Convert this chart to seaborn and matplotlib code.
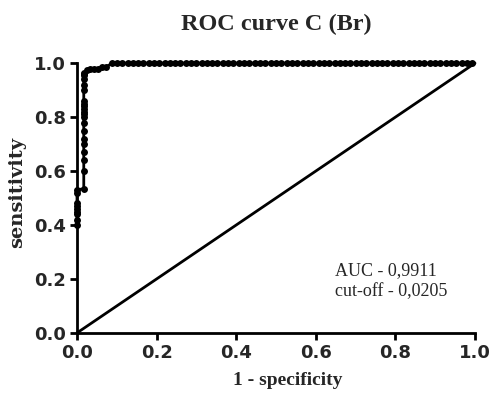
import numpy as np
import pandas as pd
import matplotlib
matplotlib.use("Agg")
import matplotlib.pyplot as plt
import seaborn as sns

# ROC curve points (1 - specificity, sensitivity)
fpr_early = [0.0, 0.0, 0.0, 0.0, 0.0, 0.0, 0.0, 0.0, 0.0,
             0.017, 0.017, 0.017, 0.017, 0.017, 0.017, 0.017, 0.017, 0.017,
             0.017, 0.017, 0.017, 0.017, 0.017, 0.017, 0.017, 0.017, 0.017,
             0.017, 0.017, 0.017,
             0.025, 0.033, 0.043, 0.053, 0.063, 0.073]
sens_early = [0.40, 0.42, 0.44, 0.45, 0.46, 0.47, 0.48, 0.52, 0.53,
              0.535, 0.60, 0.64, 0.67, 0.70, 0.72, 0.75, 0.78, 0.80,
              0.81, 0.82, 0.83, 0.84, 0.85, 0.86, 0.90, 0.92, 0.94,
              0.955, 0.96, 0.965,
              0.975, 0.98, 0.98, 0.98, 0.985, 0.985]
fpr_top = [0.087, 0.100, 0.113, 0.127, 0.140, 0.153, 0.167, 0.180, 0.193,
           0.207, 0.220, 0.233, 0.247, 0.260, 0.273, 0.287, 0.300, 0.313,
           0.327, 0.340, 0.353, 0.367, 0.380, 0.393, 0.407, 0.420, 0.433,
           0.447, 0.460, 0.473, 0.487, 0.500, 0.513, 0.527, 0.540, 0.553,
           0.567, 0.580, 0.593, 0.607, 0.620, 0.633, 0.647, 0.660, 0.673,
           0.687, 0.700, 0.713, 0.727, 0.740, 0.753, 0.767, 0.780, 0.793,
           0.807, 0.820, 0.833, 0.847, 0.860, 0.873, 0.887, 0.900, 0.913,
           0.927, 0.940, 0.953, 0.967, 0.980, 0.993]
sens_top = [1.0] * len(fpr_top)

diag_x = [0.0, 1.0]
diag_y = [0.0, 1.0]

x_ticks = [0.0, 0.2, 0.4, 0.6, 0.8, 1.0]
y_ticks = [0.0, 0.2, 0.4, 0.6, 0.8, 1.0]

title = "ROC curve C (Br)"
xlabel = "1 - specificity"
ylabel = "sensitivity"
annot_lines = ["AUC - 0,9911", "cut-off - 0,0205"]

roc = pd.DataFrame({"fpr": fpr_early + fpr_top, "sens": sens_early + sens_top})
diag = pd.DataFrame({"x": diag_x, "y": diag_y})

sns.set_style("ticks")
plt.rcParams["font.family"] = ["DejaVu Sans"]

fig = plt.figure(figsize=(5.0, 4.05), dpi=100)
ax = fig.add_axes([0.154, 0.178, 0.796, 0.666])

sns.lineplot(data=diag, x="x", y="y", ax=ax, color="black", linewidth=2.0,
             estimator=None, sort=False)
sns.lineplot(data=roc, x="fpr", y="sens", ax=ax, color="black", linewidth=2.0,
             marker="o", markersize=5, markeredgewidth=0, markeredgecolor="black",
             estimator=None, sort=False)
for l in ax.lines:
    l.set_clip_on(False)

ax.set_xlim(0, 1.0)
ax.set_ylim(0, 1.0)
ax.set_xticks(x_ticks)
ax.set_yticks(y_ticks)
ax.set_xticklabels([f"{v:.1f}" for v in x_ticks], fontsize=13, fontweight="bold")
ax.set_yticklabels([f"{v:.1f}" for v in y_ticks], fontsize=13, fontweight="bold")
ax.tick_params(axis="both", direction="out", length=5, width=2, color="black", pad=3)

for s in ["top", "right"]:
    ax.spines[s].set_visible(False)
for s in ["left", "bottom"]:
    ax.spines[s].set_linewidth(2)
    ax.spines[s].set_color("black")

serif = ["Liberation Serif", "DejaVu Serif"]
ax.set_title(title, fontsize=17.5, fontweight="bold", family=serif, pad=24)
ax.set_xlabel(xlabel, fontsize=14, fontweight="bold", family=serif)
ax.xaxis.set_label_coords(0.53, -0.145)
ax.set_ylabel(ylabel, fontsize=14, fontweight="bold", family=["DejaVu Serif"])
ax.yaxis.set_label_coords(-0.128, 0.52)

ax.text(0.648, 0.216, annot_lines[0], fontsize=13, family=serif, ha="left", va="baseline")
ax.text(0.648, 0.1375, annot_lines[1], fontsize=13, family=serif, ha="left", va="baseline")

fig.savefig("out.png", dpi=100)
